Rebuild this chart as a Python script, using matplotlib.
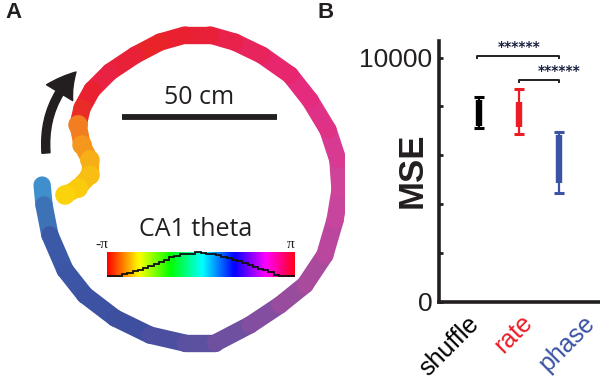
import numpy as np
import matplotlib
matplotlib.use("Agg")
import matplotlib.pyplot as plt
from matplotlib.collections import LineCollection
from matplotlib.colors import LinearSegmentedColormap, Normalize
from matplotlib.patches import FancyArrowPatch

# ---------------- data ----------------
# Panel A: trajectory waypoints (cm, relative to arena centre) and CA1 theta phase (rad)
traj_x = [-47.7, -47.1, -45.2, -40.3, -33.9, -24.2, -12.9, -1.6, 8.1, 19.4, 29.0, 37.1,
          43.5, 46.8, 48.4, 47.7, 44.5, 38.7, 32.3, 23.2, 14.5, 6.5, -1.6, -9.7, -17.7,
          -25.8, -31.6, -34.8, -36.1, -34.8, -32.3, -32.3, -36.1, -40.3]
traj_y = [1.6, -4.8, -14.5, -25.8, -33.9, -41.3, -46.8, -49.4, -49.4, -43.5, -37.1, -30.6,
          -21.0, -9.7, 0.0, 9.7, 19.4, 29.0, 37.1, 43.5, 47.7, 50.0, 50.0, 47.7, 43.5,
          38.1, 32.3, 26.5, 21.0, 14.5, 9.7, 4.8, 0.6, -1.6]
traj_phase = [0.38, 0.63, 0.88, 1.00, 1.13, 1.26, 1.38, 1.54, 1.67, 1.82, 1.98, 2.10,
              2.23, 2.33, 2.39, 2.48, 2.58, 2.67, 2.77, 2.86, 2.95, 3.05, 3.11, -3.11, 3.05,
              3.00, 3.10, -3.05, -2.65, -2.50, -2.35, -2.25, -2.15, -2.10]
# phase histogram (normalised) shown over the colour bar
phase_hist = [0.05, 0.05, 0.05, 0.12, 0.18, 0.24, 0.32, 0.40, 0.48, 0.57, 0.66, 0.75,
              0.84, 0.92, 0.97, 0.97, 0.97, 1.07, 1.02, 0.97, 0.97, 0.95, 0.88, 0.82,
              0.75, 0.68, 0.60, 0.52, 0.44, 0.36, 0.28, 0.20, 0.10, 0.05, 0.05, 0.05]
scalebar_cm = 50

# Panel B
categories = ["shuffle", "rate", "phase"]
cat_colors = ["#000000", "#ec1c24", "#3a53a4"]
mse_min = [7130, 6870, 4440]
mse_q1 = [7210, 7170, 4850]
mse_q3 = [8280, 8200, 6830]
mse_max = [8370, 8720, 6970]
yticks = [0, 2000, 4000, 6000, 8000, 10000]
ytick_labels = ["0", "", "", "", "", "10000"]
sig_pairs = [(1, 3), (2, 3)]
sig_levels = [10080, 9100]
sig_text = "******"

# ---------------- figure ----------------
W, H = 600, 380
fig = plt.figure(figsize=(6, 3.8), dpi=100)
plt.rcParams['font.family'] = ['Liberation Sans', 'DejaVu Sans']

def fx(px):
    return px / W

def fy(py):
    return 1 - py / H

# ---- Panel A ----
pxcm = 3.1
cx, cy = 190, 190
axa = fig.add_axes([0, 0, 345 / W, 1])
axa.set_xlim(-cx / pxcm, (345 - cx) / pxcm)
axa.set_ylim(-(H - cy) / pxcm, cy / pxcm)
axa.axis("off")

ring_cmap = LinearSegmentedColormap.from_list("ring", [
    (0.00, "#e8202a"), (0.04, "#ec4a24"), (0.08, "#f28021"), (0.13, "#f8b416"),
    (0.17, "#fcd80a"), (0.35, "#4db848"), (0.50, "#3fa9d0"), (0.56, "#3f90cc"),
    (0.63, "#3c5ba8"), (0.70, "#3d4fa0"), (0.76, "#6650a0"), (0.82, "#9c4c9e"),
    (0.88, "#cf449c"), (0.93, "#e6287a"), (0.97, "#e9224e"), (1.00, "#e8202a")])
norm = Normalize(-np.pi, np.pi)
pts = np.column_stack([traj_x, traj_y])
segs = np.stack([pts[:-1], pts[1:]], axis=1)
lc = LineCollection(segs, colors=ring_cmap(norm(np.array(traj_phase[:-1]))),
                    linewidths=12.5, capstyle="round", joinstyle="round")
axa.add_collection(lc)
# wider, blobby late-phase section (orange / yellow)
blob = slice(28, 34)
axa.scatter(traj_x[blob], traj_y[blob], c=traj_phase[blob], cmap=ring_cmap, norm=norm,
            s=200, marker="o", linewidths=0, zorder=2)

# scale bar
sb_x0 = (122 - cx) / pxcm
sb_y = (cy - 117) / pxcm
axa.plot([sb_x0, sb_x0 + scalebar_cm], [sb_y, sb_y], color="#231f20", lw=4.2,
         solid_capstyle="butt")
axa.text(sb_x0 + scalebar_cm / 2, sb_y + 2.3, f"{scalebar_cm} cm", ha="center",
         va="bottom", fontsize=18, family="Open Sans", color="#231f20")

# direction arrow
arr = FancyArrowPatch(((46 - cx) / pxcm, (cy - 153) / pxcm), ((76 - cx) / pxcm, (cy - 72) / pxcm),
                      connectionstyle="arc3,rad=-0.23",
                      arrowstyle="simple,head_length=19,head_width=22,tail_width=5.8",
                      color="#231f20", shrinkA=0, shrinkB=0, mutation_scale=1)
axa.add_patch(arr)

# colour bar with phase histogram
axc = fig.add_axes([fx(106.5), fy(277), 188 / W, 25 / H])
axc.imshow(np.linspace(0, 1, 256)[None, :], cmap="hsv", aspect="auto",
           extent=[-np.pi, np.pi, 0, 1])
edges = np.linspace(-np.pi, np.pi, len(phase_hist) + 1)
axc.stairs(np.array(phase_hist) * 0.93, edges, baseline=None, color="#111111", lw=1.3,
           clip_on=False)
axc.set_xlim(-np.pi, np.pi)
axc.set_ylim(0, 1)
axc.axis("off")
fig.text(fx(196), fy(230), "CA1 theta", ha="center", va="center", fontsize=18,
         family="Open Sans", color="#231f20")
fig.text(fx(102), fy(245), "-π", ha="center", va="center", fontsize=11,
         family="Liberation Serif", color="#231f20")
fig.text(fx(291), fy(245), "π", ha="center", va="center", fontsize=11,
         family="Liberation Serif", color="#231f20")

fig.text(fx(13), fy(12), "A", ha="center", va="center", fontsize=16, fontweight="bold",
         color="#231f20")
fig.text(fx(326), fy(12), "B", ha="center", va="center", fontsize=16, fontweight="bold",
         color="#231f20")

# ---- Panel B ----
ax_l, ax_b, ax_t = 439.3, 301.7, 40.7
axb = fig.add_axes([fx(ax_l), fy(ax_b), (W - ax_l) / W, (ax_b - ax_t) / H])
px_per_unit = (ax_b - 57.7) / 10000
axb.set_ylim(0, (ax_b - ax_t) / px_per_unit)
xsp = 40.1
axb.set_xlim(1 - (478.8 - ax_l) / xsp, 1 + (W - 478.8) / xsp)
for s in ["top", "right"]:
    axb.spines[s].set_visible(False)
for s in ["left", "bottom"]:
    axb.spines[s].set_linewidth(2.6)
    axb.spines[s].set_color("#231f20")
    axb.spines[s].set_capstyle("projecting")
axb.set_yticks(yticks)
axb.set_yticklabels(ytick_labels, fontsize=19, color="#231f20")
axb.tick_params(axis="y", direction="in", length=3, width=2, pad=5, color="#231f20")
axb.set_xticks([])
fig.text(fx(412), fy(170), "MSE", rotation=90, ha="center", va="center", fontsize=25,
         fontweight="bold", color="#231f20")

xs = np.arange(1, len(categories) + 1)
for x, c, lo, q1, q3, hi in zip(xs, cat_colors, mse_min, mse_q1, mse_q3, mse_max):
    axb.vlines(x, lo, hi, color=c, lw=1.6)
    axb.hlines([lo, hi], x - 0.12, x + 0.12, color=c, lw=2.2)
    axb.vlines(x, q1, q3, color=c, lw=4.6)

for (a, b), lvl in zip(sig_pairs, sig_levels):
    tick = 100
    xa = a - 0.04 if a == 1 else a
    axb.plot([xa, xa, b, b], [lvl - tick, lvl, lvl, lvl - tick], color="#231f20", lw=1.4,
             clip_on=False)
    axb.text((a + b) / 2 + (0 if a == 1 else 0.5), lvl + 60, sig_text, ha="center",
             va="bottom", fontsize=10, fontweight="bold", family="DejaVu Sans",
             color="#1a2040", clip_on=False)

label_pos = [(449.5, 346), (514, 333.5), (567, 343)]
for name, c, (px, py) in zip(categories, cat_colors, label_pos):
    fig.text(fx(px), fy(py), name, rotation=45, ha="center", va="center", fontsize=18,
             color=c)

fig.savefig("out.png", dpi=100)
